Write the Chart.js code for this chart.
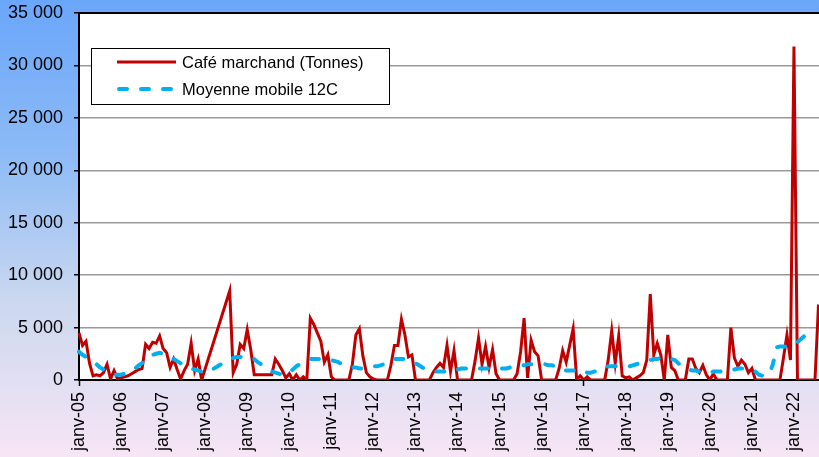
<!DOCTYPE html>
<html>
<head>
<meta charset="utf-8">
<script src="https://cdn.jsdelivr.net/npm/chart.js@4.4.1/dist/chart.umd.min.js"></script>
<style>
    html, body { margin: 0; padding: 0; overflow: hidden; }
    body {
        width: 819px; height: 457px;
        background: linear-gradient(to bottom, #6aa6fa 0%, #8cbaf6 33%, #cbd8ef 66%, #f7e5f5 100%);
    }
    canvas { display: block; }
</style>
</head>
<body>
<canvas id="myChart" width="822" height="457"></canvas>

<script>
    var ctx = document.getElementById('myChart').getContext('2d');

    // Mois (janv-05 ... sept-22)
    var mois = ['janv', 'févr', 'mars', 'avr', 'mai', 'juin', 'juil', 'août', 'sept', 'oct', 'nov', 'déc'];
    var annees = ['05', '06', '07', '08', '09', '10', '11', '12', '13', '14', '15', '16', '17', '18', '19', '20', '21', '22'];
    var labels = [];
    annees.forEach(function(a) {
        mois.forEach(function(m) { labels.push(m + '-' + a); });
    });
    labels = labels.slice(0, 213);

    // Café marchand (Tonnes), une ligne par année
    var cafe = [
        4500, 3300, 3700, 1600, 400, 500, 400, 700, 1500, 100, 900, 100,       // 2005
        200, 300, 400, 600, 800, 1000, 1100, 3400, 3000, 3600, 3500, 4200,     // 2006
        3000, 2600, 1200, 2000, 1000, 100, 900, 1500, 3500, 900, 2000, 0,      // 2007
        null, null, null, null, null, null, null, 8500, 700, 1500, 3400, 3000, // 2008
        4800, 2900, 500, 500, 500, 500, 500, 500, 2000, 1500, 900, 200,        // 2009
        600, 0, 500, 0, 300, 0, 5900, 5300, 4500, 3700, 1700, 2400,            // 2010
        300, 0, 0, 0, 0, 0, 1500, 4300, 4900, 2300, 700, 300,                  // 2011
        100, 0, 0, 0, 0, 1400, 3300, 3300, 5800, 4300, 2200, 2400,             // 2012
        0, 0, 0, 0, 0, 700, 1200, 1600, 1200, 3300, 800, 2800,                 // 2013
        0, 0, 0, 0, 0, 1800, 4000, 1500, 3200, 1200, 2900, 600,                // 2014
        0, 0, 0, 0, 0, 600, 2700, 5900, 200, 3800, 2700, 2300,                 // 2015
        0, 0, 0, 0, 0, 1100, 2800, 1700, 3300, 4900, 0, 400,                   // 2016
        0, 300, 0, 0, 0, 0, 0, 1900, 4700, 1600, 4200, 400,                    // 2017
        200, 300, 0, 200, 400, 700, 1900, 8200, 2400, 3500, 2400, 0,           // 2018
        4300, 1200, 900, 0, 0, 0, 2000, 2000, 1100, 700, 1400, 500,            // 2019
        0, 600, 0, 0, 0, 0, 5000, 2100, 1300, 1900, 1500, 700,                 // 2020
        1100, 0, 0, 0, 0, 0, 0, 0, 0, 2100, 4300, 1900,                        // 2021
        31800, 0, 0, 0, 0, 0, 0, 7200, null                                    // 2022
    ];

    // Moyenne mobile 12C
    var moyenne = [
        2700, 2400, 2200, 1900, 1700, 1500, 1200, 1000, 800, 600, 500, 500,     // 2005
        500, 600, 800, 900, 1100, 1400, 1600, 1900, 2200, 2400, 2500, 2600,     // 2006
        2500, 2400, 2200, 2000, 1800, 1600, 1400, 1300, 1100, 1000, 900, 800,   // 2007
        700, 800, 1000, 1200, 1400, 1600, 1800, 2000, 2100, 2200, 2200, 2200,   // 2008
        2200, 2100, 2000, 1700, 1500, 1200, 1000, 800, 700, 600, 500, 500,      // 2009
        700, 1000, 1300, 1500, 1700, 1900, 2000, 2000, 2000, 2000, 2000, 1900,  // 2010
        1900, 1800, 1700, 1500, 1400, 1300, 1200, 1200, 1100, 1100, 1200, 1200, // 2011
        1300, 1300, 1400, 1500, 1600, 1800, 2000, 2000, 2000, 2000, 1900, 1700, // 2012
        1600, 1400, 1200, 1000, 900, 800, 800, 800, 800, 800, 900, 1000,        // 2013
        1000, 1100, 1100, 1100, 1100, 1100, 1100, 1100, 1100, 1100, 1100, 1100, // 2014
        1100, 1100, 1100, 1200, 1200, 1300, 1400, 1400, 1500, 1500, 1500, 1500, // 2015
        1500, 1500, 1400, 1400, 1300, 1100, 900, 900, 900, 900, 900, 1000,      // 2016
        800, 700, 700, 800, 900, 1000, 1200, 1300, 1300, 1300, 1300, 1300,      // 2017
        1300, 1300, 1400, 1500, 1600, 1700, 1800, 1900, 2000, 2000, 2100, 2100, // 2018
        2100, 2000, 1900, 1600, 1300, 1100, 1000, 900, 900, 800, 800, 700,      // 2019
        700, 800, 800, 800, 900, 900, 1000, 1000, 1100, 1100, 1100, 1100,       // 2020
        1000, 800, 500, 400, 400, 600, 1500, 3100, 3200, 3200, 3200, 3300,      // 2021
        3400, 3600, 3900, 4200, null, null, null, null, null                    // 2022
    ];

    var yMax = 35000;
    var yPas = 5000;

    var police = 'Liberation Sans, Arial, sans-serif';

    // Fond blanc de la zone de tracé + bordure haute
    var fondPlugin = {
        id: 'fondZone',
        beforeDraw: function(chart) {
            var a = chart.chartArea;
            chart.ctx.save();
            chart.ctx.fillStyle = '#ffffff';
            chart.ctx.fillRect(a.left, a.top, a.right - a.left, a.bottom - a.top);
            chart.ctx.restore();
        },
        afterDraw: function(chart) {
            var a = chart.chartArea;
            var c = chart.ctx;
            c.save();
            c.strokeStyle = '#000';
            c.lineWidth = 2;
            c.beginPath();
            c.moveTo(a.left, a.top);
            c.lineTo(a.right, a.top);
            c.stroke();
            c.restore();
        }
    };

    // Légende encadrée dans la zone de tracé
    var legendePlugin = {
        id: 'legendeBoite',
        afterDraw: function(chart) {
            var c = chart.ctx;
            c.save();
            c.fillStyle = '#fff';
            c.fillRect(91, 48, 298, 56);
            c.strokeStyle = '#000';
            c.lineWidth = 1;
            c.strokeRect(91.5, 48.5, 298, 56);

            c.lineWidth = 3;
            c.strokeStyle = '#C00000';
            c.beginPath(); c.moveTo(117, 62); c.lineTo(176, 62); c.stroke();

            c.lineWidth = 4;
            c.lineCap = 'round';
            c.setLineDash([8, 14]);
            c.strokeStyle = '#00B0F0';
            c.beginPath(); c.moveTo(119, 89); c.lineTo(176, 89); c.stroke();
            c.setLineDash([]);

            c.fillStyle = '#000';
            c.font = '16.5px ' + police;
            c.textBaseline = 'middle';
            c.fillText('Café marchand (Tonnes)', 182, 63);
            c.fillText('Moyenne mobile 12C', 182, 90);
            c.restore();
        }
    };

    var myChart = new Chart(ctx, {
        type: 'line',
        data: {
            labels: labels,
            datasets: [{
                label: 'Moyenne mobile 12C',
                data: moyenne,
                borderColor: '#00B0F0',
                borderWidth: 4,
                borderDash: [8, 14],
                borderCapStyle: 'round',
                pointRadius: 0,
                tension: 0,
                fill: false
            }, {
                label: 'Café marchand (Tonnes)',
                data: cafe,
                borderColor: '#C00000',
                borderWidth: 3,
                pointRadius: 0,
                tension: 0,
                spanGaps: true,
                fill: false
            }]
        },
        options: {
            responsive: false,
            animation: false,
            layout: { padding: { top: 13, left: 0, right: 0, bottom: 0 } },
            plugins: {
                legend: { display: false },
                tooltip: { enabled: false }
            },
            scales: {
                x: {
                    offset: false,
                    grid: {
                        drawOnChartArea: false,
                        drawTicks: true,
                        tickLength: 6,
                        tickWidth: 1.5,
                        tickColor: function(c) { return c.index % 12 === 0 ? '#000' : 'rgba(0,0,0,0)'; }
                    },
                    border: { color: '#000', width: 2 },
                    ticks: {
                        autoSkip: false,
                        minRotation: 90,
                        maxRotation: 90,
                        padding: 6,
                        color: '#000',
                        font: { family: police, size: 18 },
                        callback: function(v, i) { return i % 12 === 0 ? labels[i] : null; }
                    },
                    afterFit: function(s) {
                        s.height = 77;
                        s.paddingLeft = 0;
                        s.paddingRight = 0;
                    }
                },
                y: {
                    min: 0,
                    max: yMax,
                    grid: { color: '#999', lineWidth: 1.5, tickLength: 5, tickColor: '#000' },
                    border: { color: '#000', width: 2 },
                    ticks: {
                        stepSize: yPas,
                        padding: 11,
                        color: '#000',
                        font: { family: police, size: 18 },
                        callback: function(v) { return String(v).replace(/\B(?=(\d{3})+(?!\d))/g, ' '); }
                    },
                    afterFit: function(s) {
                        s.width = 79;
                        s.paddingTop = 0;
                        s.paddingBottom = 0;
                    }
                }
            }
        },
        plugins: [fondPlugin, legendePlugin]
    });
</script>
</body>
</html>
